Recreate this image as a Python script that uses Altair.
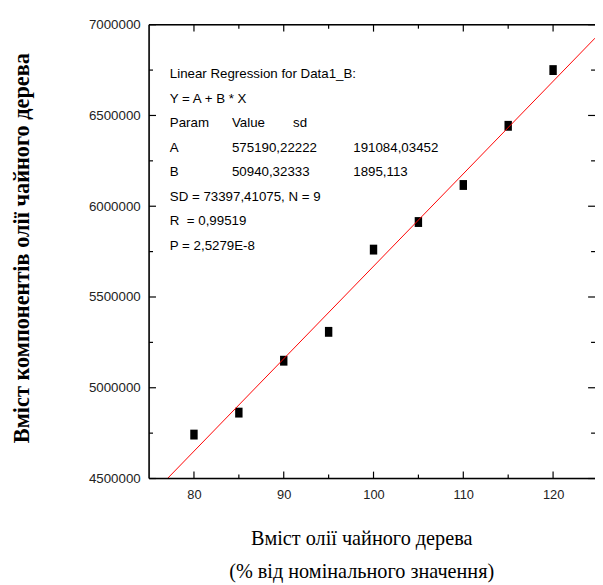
import altair as alt
import pandas as pd

# ---- data ----
x_vals = [80, 85, 90, 95, 100, 105, 110, 115, 120]
y_vals = [4742000, 4863000, 5149000, 5308000, 5761000, 5913000, 6117000, 6443000, 6750000]

# regression parameters printed on the chart
A = 575190.22222
B = 50940.32333
fit_x = [75, 124.67]

x_major = [80, 90, 100, 110, 120]
x_minor = [85, 95, 105, 115]
y_major = [4500000, 5000000, 5500000, 6000000, 6500000, 7000000]
y_minor = [4750000, 5250000, 5750000, 6250000, 6750000]

ann_lines = [
    ["Linear Regression for Data1_B:"],
    ["Y = A + B * X"],
    ["Param", "Value", "sd"],
    ["A", "575190,22222", "191084,03452"],
    ["B", "50940,32333", "1895,113"],
    ["SD = 73397,41075, N = 9"],
    ["R\u00a0 = 0,99519"],
    ["P = 2,5279E-8"],
]

x_title = ["Вміст олії чайного дерева", "(% від номінального значення)"]
y_title = "Вміст компонентів олії чайного дерева"

# ---- layout ----
W, H = 452, 460
SANS = "Liberation Sans, Arial, sans-serif"
SERIF = "Liberation Serif, Times New Roman, serif"

xs = alt.Scale(domain=[75, 124.67], nice=False, zero=False)
ys = alt.Scale(domain=[4500000, 7000000], nice=False, zero=False)

x_axis = alt.Axis(
    values=x_major, ticks=False, domain=False, grid=False, labelPadding=10,
    labelFont=SANS, labelFontSize=13, labelColor="#222",
    title=x_title, titleFont=SERIF, titleFontSize=20.5, titleFontWeight="normal",
    titleColor="black", titleLineHeight=33, titleX=215, titleY=61,
    titleBaseline="middle", titleAlign="center")
y_axis = alt.Axis(
    values=y_major, format="d", ticks=False, domain=False, grid=False,
    labelPadding=9, labelFont=SANS, labelFontSize=13.5, labelColor="#222",
    title=y_title, titleFont=SERIF, titleFontSize=22.6, titleFontWeight="bold",
    titleColor="black", titleAngle=-90, titleX=-129, titleY=226,
    titleBaseline="middle", titleAlign="center")

pts = pd.DataFrame({"x": x_vals, "y": y_vals})

points = alt.Chart(pts).mark_point(
    shape="M-0.75,-1H0.75V1H-0.75Z", size=100, filled=True, color="black", opacity=1
).encode(
    x=alt.X("x:Q", scale=xs, axis=x_axis),
    y=alt.Y("y:Q", scale=ys, axis=y_axis),
)

fit = alt.Chart(pd.DataFrame({"x": fit_x})).transform_calculate(
    y=f"{A} + {B} * datum.x"
).mark_line(color="#ff0000", strokeWidth=1, clip=True).encode(
    x=alt.X("x:Q", scale=xs, axis=x_axis),
    y=alt.Y("y:Q", scale=ys, axis=y_axis),
)

def hticks(vals, x0, x1):
    return alt.Chart(pd.DataFrame({"y": vals})).mark_rule(color="black", strokeWidth=1.2).encode(
        y=alt.Y("y:Q", scale=ys, axis=y_axis), x=alt.value(x0), x2=alt.value(x1))

def vticks(vals, y0, y1):
    return alt.Chart(pd.DataFrame({"x": vals})).mark_rule(color="black", strokeWidth=1.2).encode(
        x=alt.X("x:Q", scale=xs, axis=x_axis), y=alt.value(y0), y2=alt.value(y1))

frame_df = pd.DataFrame({"k": [0]})
frame = [
    alt.Chart(frame_df).mark_rule(color="black", strokeWidth=1.6).encode(
        x=alt.value(0), y=alt.value(0), y2=alt.value(H)),
    alt.Chart(frame_df).mark_rule(color="black", strokeWidth=1.6).encode(
        x=alt.value(0), x2=alt.value(W), y=alt.value(H)),
    alt.Chart(frame_df).mark_rule(color="black", strokeWidth=1.6).encode(
        x=alt.value(0), x2=alt.value(W), y=alt.value(0)),
]

ticks = [
    hticks(y_major, 0, 7), hticks(y_minor, 0, 4),
    hticks(y_major, W - 7, W), hticks(y_minor, W - 4, W),
    vticks(x_major, H - 7, H), vticks(x_minor, H - 4, H),
    vticks(x_major, 0, 7), vticks(x_minor, 0, 4),
]

col_x = [21, 84, 146, 207]
row_y0, row_dy = 50.5, 24.8
texts = []
for r, line in enumerate(ann_lines):
    if len(line) == 3 and r >= 3:
        cols = [col_x[0], col_x[1], col_x[3]]
    elif len(line) == 3:
        cols = [col_x[0], col_x[1], col_x[2]]
    else:
        cols = [col_x[0]]
    for c, s in enumerate(line):
        texts.append(
            alt.Chart(pd.DataFrame({"t": [s]})).mark_text(
                align="left", baseline="middle", font=SANS, fontSize=13.5, color="black"
            ).encode(text="t:N", x=alt.value(cols[c]), y=alt.value(row_y0 + r * row_dy))
        )

chart = alt.layer(points, fit, *ticks, *frame, *texts).properties(
    width=W, height=H,
    autosize=alt.AutoSizeParams(type="none"),
    padding={"left": 143, "top": 13, "right": 0, "bottom": 104},
).configure_view(stroke=None).configure(background="white")

chart.save("out.html", embed_options={"renderer": "svg", "actions": False})
